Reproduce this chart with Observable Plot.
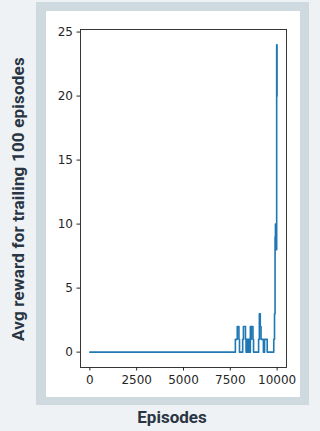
<!DOCTYPE html>
<html><head><meta charset="utf-8">
<script src="https://cdn.jsdelivr.net/npm/d3@7"></script>
<script src="https://cdn.jsdelivr.net/npm/@observablehq/plot@0.6"></script>
<style>
html,body{margin:0;padding:0;background:#eef2f5;width:320px;height:431px;overflow:hidden;position:relative;font-family:Roboto,sans-serif}
#frame{position:absolute;left:36px;top:2px;width:273px;height:403px;box-sizing:border-box;background:#fff;border-style:solid;border-color:#cfd9e0;border-width:9px 9px 8px 10px}
#chart{position:absolute;left:0;top:0}
#ylab{position:absolute;left:18px;top:199px;transform:translate(-50%,-50%) rotate(-90deg);white-space:nowrap;font-weight:700;font-size:17px;letter-spacing:0.2px;color:#2a3543}
#xlab{position:absolute;left:172px;top:417px;transform:translate(-50%,-50%);white-space:nowrap;font-weight:700;font-size:17px;color:#2a3543}
</style>
</head><body>
<div id="frame"><div id="chart"></div></div>
<div id="ylab">Avg reward for trailing 100 episodes</div>
<div id="xlab">Episodes</div>
<script>
const episodes = [0, 7770, 7870, 7960, 7990, 8160, 8200, 8310, 8340, 8370, 8400, 8420, 8450, 8470, 8500, 8520, 8545, 8570, 8600, 8620, 8710, 8740, 9010, 9050, 9100, 9140, 9230, 9265, 9330, 9470, 9820, 9860, 9890, 9910, 9930, 9945, 9960, 9975, 9995, 10000];
const rewards  = [0, 1, 2, 1, 0, 1, 2, 1, 0, 1, 0, 1, 0, 1, 0, 1, 0, 2, 1, 2, 1, 0, 1, 3, 2, 1, 1, 0, 1, 0, 1, 3, 9, 10, 8, 9, 8, 24, 20, 20];
const xTicks = [0, 2500, 5000, 7500, 10000];
const yTicks = [0, 5, 10, 15, 20, 25];

const data = episodes.map((e, i) => ({episode: e, reward: rewards[i]}));

const chart = Plot.plot({
  width: 254, height: 386,
  marginLeft: 34, marginRight: 14, marginTop: 18, marginBottom: 30,
  x: {domain: [-500, 10500]},
  y: {domain: [-1.2, 25.2]},
  style: {fontFamily: "DejaVu Sans", fontSize: "12px", color: "#262626", background: "transparent"},
  marks: [
    Plot.axisX({ticks: xTicks, tickSize: 3.5, tickPadding: 4, label: null, tickFormat: d3.format("d")}),
    Plot.axisY({ticks: yTicks, tickSize: 3.5, tickPadding: 4, label: null, tickFormat: d3.format("d")}),
    Plot.line(data, {x: "episode", y: "reward", curve: "step-after", stroke: "#1f77b4", strokeWidth: 1.6}),
    Plot.frame({stroke: "#222", strokeWidth: 0.9})
  ]
});
document.getElementById("chart").appendChild(chart);
</script>
</body></html>
